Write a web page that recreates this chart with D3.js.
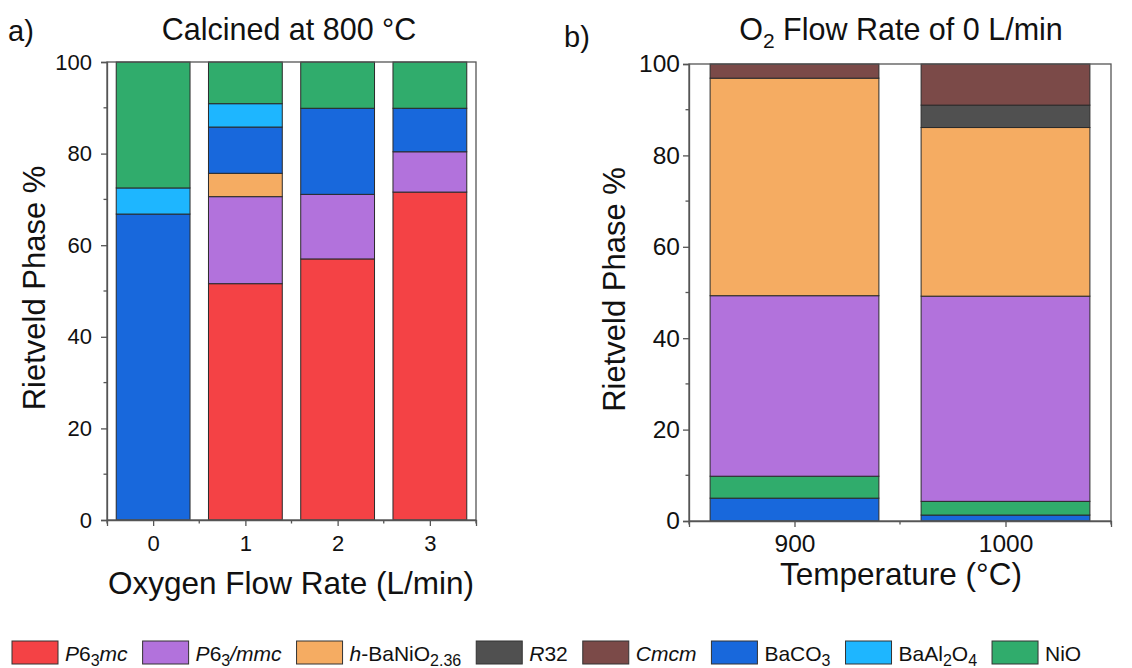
<!DOCTYPE html>
<html><head><meta charset="utf-8">
<script src="https://cdn.jsdelivr.net/npm/d3@7"></script>
<style>
html,body{margin:0;padding:0;background:#fff;}
svg{display:block;font-family:"Liberation Sans",Arial,sans-serif;}
</style></head>
<body>
<svg id="chart" width="1132" height="668"></svg>
<script>
// ---------- DATA ----------
const phaseKeys = ["P63mc","P63mmc","hBaNiO","R32","Cmcm","BaCO3","BaAl2O4","NiO"];
const phaseColors = ["#F44245","#B272DC","#F5AC62","#505050","#7B4A48","#1868DC","#1EB6FF","#30AC6C"];

// Panel a: calcined at 800 °C, oxygen flow rate
const flowRates = ["0","1","2","3"];
const flowP63mc   = [0, 51.6, 57.0, 71.6];
const flowP63mmc  = [0, 19.0, 14.1, 8.8];
const flowHBaNiO  = [0, 5.1, 0, 0];
const flowR32     = [0, 0, 0, 0];
const flowCmcm    = [0, 0, 0, 0];
const flowBaCO3   = [66.8, 10.1, 18.8, 9.5];
const flowBaAl2O4 = [5.7, 5.1, 0, 0];
const flowNiO     = [27.5, 9.1, 10.1, 10.1];
const flowStackOrder = ["P63mc","P63mmc","hBaNiO","R32","Cmcm","BaCO3","BaAl2O4","NiO"];

// Panel b: O2 flow rate 0 L/min, temperature
const temps = ["900","1000"];
const tempP63mc   = [0, 0];
const tempP63mmc  = [39.5, 44.9];
const tempHBaNiO  = [47.6, 36.9];
const tempR32     = [0, 4.9];
const tempCmcm    = [3.1, 9.0];
const tempBaCO3   = [5.0, 1.3];
const tempBaAl2O4 = [0, 0];
const tempNiO     = [4.8, 3.0];
const tempStackOrder = ["BaCO3","NiO","P63mc","P63mmc","hBaNiO","R32","Cmcm","BaAl2O4"];

const yTicks = [0,20,40,60,80,100];
const yMinorTicks = [10,30,50,70,90];

// ---------- BUILD TABLES ----------
function table(cats, cols){
  return cats.map((c,i)=>{
    const o = {cat:c, idx:i};
    phaseKeys.forEach((k,j)=>{ o[k] = cols[j][i]; });
    return o;
  });
}
const flowTable = table(flowRates,[flowP63mc,flowP63mmc,flowHBaNiO,flowR32,flowCmcm,flowBaCO3,flowBaAl2O4,flowNiO]);
const tempTable = table(temps,[tempP63mc,tempP63mmc,tempHBaNiO,tempR32,tempCmcm,tempBaCO3,tempBaAl2O4,tempNiO]);
const color = d3.scaleOrdinal().domain(phaseKeys).range(phaseColors);

const svg = d3.select("#chart");
const FONT = "'Liberation Sans', Arial, sans-serif";
const frameColor = "#555";

function panel(opts){
  const {data, cats, order, xRange, yRange, title, titleX, letter, letterX, letterY, xLabel, xLabelY, xLabelX, yLabelX, tickFont, yPad, xPad} = opts;
  const n = cats.length;
  const x = d3.scaleLinear().domain([-0.5, n-0.5]).range(xRange);
  const y = d3.scaleLinear().domain([0,100]).range(yRange);
  const g = svg.append("g");

  const series = d3.stack().keys(order)(data);
  g.selectAll("g.s").data(series).join("g")
    .attr("fill", d=>color(d.key))
    .selectAll("rect").data(d=>d.filter(v=>v[1]-v[0]>0)).join("rect")
    .attr("x", d=>x(d.data.idx-0.4))
    .attr("width", d=>x(d.data.idx+0.4)-x(d.data.idx-0.4))
    .attr("y", d=>y(d[1]))
    .attr("height", d=>y(d[0])-y(d[1]))
    .attr("stroke","#2a2a2a").attr("stroke-width",1);

  // frame
  g.append("rect").attr("x",xRange[0]).attr("y",yRange[1])
    .attr("width",xRange[1]-xRange[0]).attr("height",yRange[0]-yRange[1])
    .attr("fill","none").attr("stroke",frameColor).attr("stroke-width",1.3);

  // y axis
  const ya = g.append("g").attr("transform",`translate(${xRange[0]},0)`)
    .call(d3.axisLeft(y).tickValues(yTicks).tickSize(6).tickPadding(yPad).tickFormat(d3.format("d")));
  ya.select(".domain").attr("stroke",frameColor).attr("stroke-width",1.3);
  ya.selectAll(".tick line").attr("stroke",frameColor).attr("stroke-width",1.3);
  ya.selectAll("text").attr("font-size",tickFont).attr("font-family",FONT).attr("fill","#111");
  g.append("g").selectAll("line").data(yMinorTicks).join("line")
    .attr("x1",xRange[0]-3.5).attr("x2",xRange[0]).attr("y1",d=>y(d)).attr("y2",d=>y(d))
    .attr("stroke",frameColor).attr("stroke-width",1.3);

  // x axis
  const xa = g.append("g").attr("transform",`translate(0,${yRange[0]})`)
    .call(d3.axisBottom(x).tickValues(d3.range(n)).tickSize(6).tickPadding(xPad).tickFormat(i=>cats[i]));
  xa.select(".domain").attr("stroke",frameColor).attr("stroke-width",1.3);
  xa.selectAll(".tick line").attr("stroke",frameColor).attr("stroke-width",1.3);
  xa.selectAll("text").attr("font-size",tickFont).attr("font-family",FONT).attr("fill","#111");
  g.append("g").selectAll("line").data(d3.range(n+1).map(i=>i-0.5)).join("line")
    .attr("x1",d=>x(d)).attr("x2",d=>x(d)).attr("y1",yRange[0]).attr("y2",yRange[0]+3.5)
    .attr("stroke",frameColor).attr("stroke-width",1.3);

  // labels
  g.append("text").attr("x",xLabelX).attr("y",xLabelY).attr("text-anchor","middle")
    .attr("font-size",31.5).attr("font-family",FONT).attr("fill","#111").text(xLabel);
  g.append("text").attr("transform",`translate(${yLabelX},${(yRange[0]+yRange[1])/2 - 3}) rotate(-90)`)
    .attr("text-anchor","middle").attr("font-size",31).attr("font-family",FONT).attr("fill","#111")
    .text("Rietveld Phase %");
  const t = g.append("text").attr("x",titleX).attr("y",40).attr("text-anchor","middle")
    .attr("font-size",30.5).attr("font-family",FONT).attr("fill","#111");
  title.forEach(p=>{
    const ts = t.append("tspan").text(p.t);
    if(p.sub){ ts.attr("font-size",21).attr("dy",8); }
    else if(p.after){ ts.attr("dy",-8); }
  });
  g.append("text").attr("x",letterX).attr("y",letterY).attr("font-size",29)
    .attr("font-family",FONT).attr("fill","#111").text(letter);
}

panel({data:flowTable, cats:flowRates, order:flowStackOrder, xRange:[107,476], yRange:[520,62],
  title:[{t:"Calcined at 800 °C"}], titleX:289, letter:"a)", letterX:8, letterY:41,
  xLabel:"Oxygen Flow Rate (L/min)", xLabelX:291, xLabelY:594, yLabelX:45, tickFont:22, yPad:9, xPad:9});
panel({data:tempTable, cats:temps, order:tempStackOrder, xRange:[689,1111], yRange:[521,64],
  title:[{t:"O"},{t:"2",sub:true},{t:" Flow Rate of 0 L/min",after:true}], titleX:901, letter:"b)", letterX:564, letterY:47,
  xLabel:"Temperature (°C)", xLabelX:901, xLabelY:585, yLabelX:625, tickFont:24.5, yPad:3, xPad:8});

// ---------- LEGEND ----------
const legendLabels = [
  [{t:"P",i:1},{t:"6"},{t:"3",s:1},{t:"mc",i:1}],
  [{t:"P",i:1},{t:"6"},{t:"3",s:1},{t:"/mmc",i:1}],
  [{t:"h",i:1},{t:"-BaNiO"},{t:"2.36",s:1}],
  [{t:"R",i:1},{t:"32"}],
  [{t:"Cmcm",i:1}],
  [{t:"BaCO"},{t:"3",s:1}],
  [{t:"BaAl"},{t:"2",s:1},{t:"O"},{t:"4",s:1}],
  [{t:"NiO"}]
];
const lg = svg.append("g");
let lx = 12;
const swW = 46, swH = 23, swY = 641, textGap = 7, itemGap = 15;
phaseKeys.forEach((k,idx)=>{
  lg.append("rect").attr("x",lx).attr("y",swY).attr("width",swW).attr("height",swH)
    .attr("fill",color(k)).attr("stroke","#333").attr("stroke-width",1);
  const tx = lg.append("text").attr("x",lx+swW+textGap).attr("y",661)
    .attr("font-size",21).attr("font-family",FONT).attr("fill","#111");
  let down = false;
  legendLabels[idx].forEach(p=>{
    const ts = tx.append("tspan").text(p.t);
    if(p.i) ts.attr("font-style","italic");
    if(p.s){ ts.attr("font-size",16); if(!down){ts.attr("dy",5); down=true;} }
    else if(down){ ts.attr("dy",-5); down=false; }
  });
  const w = tx.node().getComputedTextLength();
  lx += swW + textGap + w + itemGap;
});
</script>
</body></html>
